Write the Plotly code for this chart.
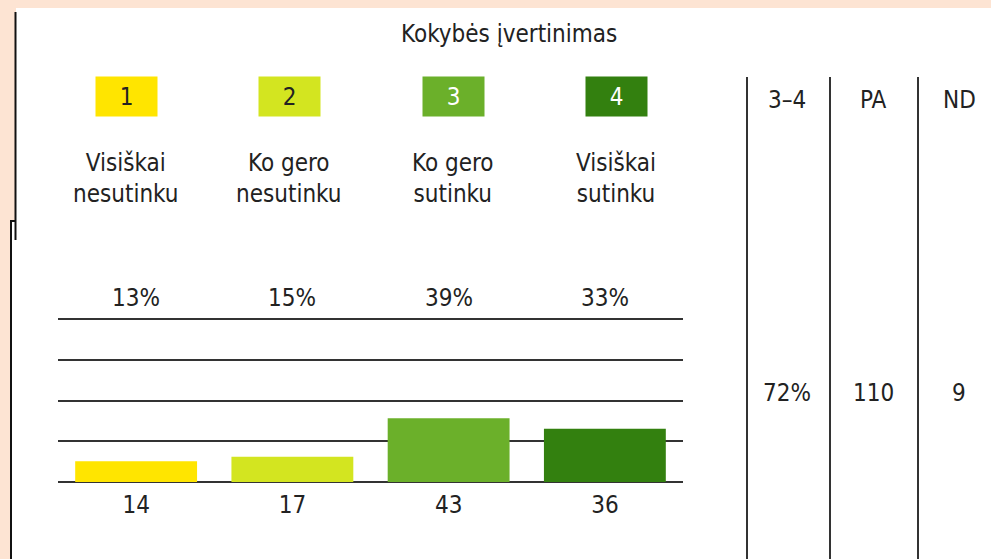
import plotly.graph_objects as go

# survey answers (quality rating)
categories = ["1", "2", "3", "4"]
answer_labels = ["Visiškai<br>nesutinku", "Ko gero<br>nesutinku", "Ko gero<br>sutinku", "Visiškai<br>sutinku"]
counts = [14, 17, 43, 36]
shares = ["13%", "15%", "39%", "33%"]
summary_heads = ["3–4", "PA", "ND"]
summary_vals = ["72%", "110", "9"]
colors = ["#FFE500", "#D3E520", "#6BB02A", "#33800F"]
box_text_colors = ["#222222", "#222222", "#FFFFFF", "#FFFFFF"]

W, H = 991, 559
FONT = "Liberation Sans Narrow, Arial Narrow, DejaVu Sans Condensed, sans-serif"
FS = 24
TXT = "#222222"
LINE = "#333333"
PEACH = "#FDE4D3"


def px(x):
    return x / W


def py(y):
    return 1 - y / H


def label(text, x, y, **kw):
    font = dict(size=FS, color=kw.pop("color", TXT), family=FONT)
    return dict(text=text, x=x, y=y, xref=kw.pop("xref", "paper"), yref="paper",
                xanchor="center", yanchor="middle", showarrow=False, font=font, **kw)


total = sum(counts)
pct = [100 * c / total for c in counts]

fig = go.Figure()
fig.add_trace(go.Bar(
    x=categories, y=pct, marker=dict(color=colors, line=dict(width=0)),
    width=0.78, hoverinfo="skip", showlegend=False,
))

# page background: peach frame with white panels
shapes = [
    dict(type="rect", xref="paper", yref="paper", x0=px(16), x1=1, y0=py(221), y1=py(8),
         fillcolor="white", line=dict(width=0), layer="below"),
    dict(type="rect", xref="paper", yref="paper", x0=px(12), x1=1, y0=0, y1=py(221),
         fillcolor="white", line=dict(width=0), layer="below"),
    dict(type="line", xref="paper", yref="paper", x0=px(15.5), x1=px(15.5), y0=py(240), y1=py(12),
         line=dict(color="#111", width=2)),
    dict(type="line", xref="paper", yref="paper", x0=px(11), x1=px(11), y0=0, y1=py(221),
         line=dict(color="#111", width=2)),
    dict(type="line", xref="paper", yref="paper", x0=px(10), x1=px(16), y0=py(221), y1=py(221),
         line=dict(color="#111", width=2)),
]
# summary column separators
for xs in [747, 830, 918]:
    shapes.append(dict(type="line", xref="paper", yref="paper", x0=px(xs), x1=px(xs),
                       y0=0, y1=py(77), line=dict(color=LINE, width=2)))

annotations = [label("Kokybės įvertinimas", px(509), py(34))]

head_x = [126, 289, 453, 616]
for i, c in enumerate(categories):
    annotations.append(label(c, px(head_x[i]), py(96), color=box_text_colors[i],
                             bgcolor=colors[i], width=61, height=39, borderpad=0))
    annotations.append(label(answer_labels[i], px(head_x[i]), py(178)))
    annotations.append(label(shares[i], i, py(298), xref="x"))

sum_x = [787, 873, 959]
for i in range(3):
    annotations.append(label(summary_heads[i], px(sum_x[i]), py(100)))
    annotations.append(label(summary_vals[i], px(sum_x[i]), py(393)))

# y range slightly above 100 so the top gridline is kept
y_top = 101
fig.update_layout(
    width=W, height=H,
    margin=dict(l=0, r=0, t=0, b=0),
    paper_bgcolor=PEACH, plot_bgcolor="rgba(0,0,0,0)",
    shapes=shapes, annotations=annotations,
    xaxis=dict(domain=[px(58), px(683)], range=[-0.5, 3.5], type="category",
               tickvals=categories, ticktext=[str(c) for c in counts], ticks="",
               ticklabelstandoff=6,
               tickfont=dict(size=FS, color=TXT, family=FONT), showgrid=False, showline=False,
               zeroline=False, fixedrange=True),
    yaxis=dict(domain=[py(482), py(482 - 1.63 * y_top)], range=[0, y_top], tickvals=[0, 25, 50, 75, 100],
               showticklabels=False, showgrid=True, gridcolor=LINE, gridwidth=2,
               zeroline=True, zerolinecolor=LINE, zerolinewidth=2, showline=False, fixedrange=True),
)

fig.write_html("out.html", config={"displayModeBar": False},
               post_script="document.body.style.margin='0';")
